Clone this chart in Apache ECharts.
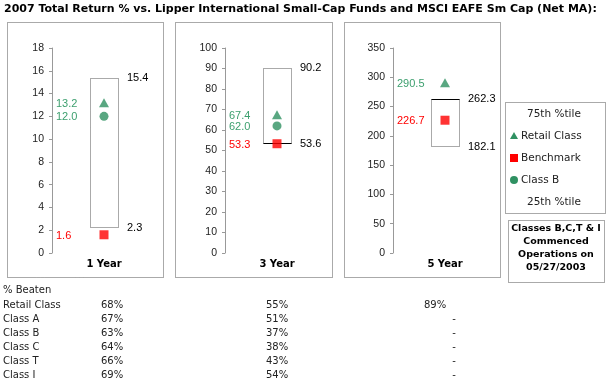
<!DOCTYPE html>
<html>
<head>
<meta charset="utf-8">
<script src="https://cdn.jsdelivr.net/npm/echarts@6/dist/echarts.min.js"></script>
<style>
html,body{margin:0;padding:0;background:#fff;}
#c{width:615px;height:385px;}
</style>
</head>
<body>
<div id="c"></div>
<script>
// ---- data ----
const titleText = '2007 Total Return % vs. Lipper International Small-Cap Funds and MSCI EAFE Sm Cap (Net MA):';
const periods = ['1 Year', '3 Year', '5 Year'];
const pct75 = [15.4, 90.2, 262.3];
const pct25 = [2.3, 53.6, 182.1];
const retailClass = [13.2, 67.4, 290.5];
const benchmark = [1.6, 53.3, 226.7];
const classB = [12.0, 62.0, null];
const axisMax = [18, 100, 350];
const axisStep = [2, 10, 50];
const legendItems = ['75th %tile', 'Retail Class', 'Benchmark', 'Class B', '25th %tile'];
const noteLines = ['Classes B,C,T & I', 'Commenced', 'Operations on', '05/27/2003'];
const beatenTitle = '% Beaten';
const beatenRows = ['Retail Class', 'Class A', 'Class B', 'Class C', 'Class T', 'Class I'];
const beaten1Y = ['68%', '67%', '63%', '64%', '66%', '69%'];
const beaten3Y = ['55%', '51%', '37%', '38%', '43%', '54%'];
const beaten5Y = ['89%', '-', '-', '-', '-', '-'];

// ---- styles ----
const GREEN = '#2f9162';
const GREEN_TXT = '#3c9f6e';
const RED = '#ff0000';
const NUM_FONT = 'Liberation Sans, Arial, sans-serif';
const VFONT = 'DejaVu Sans, Verdana, sans-serif';
const gridLefts = [52, 225, 393];
const solidEdge = ['', 'bottom', 'top'];

const chart = echarts.init(document.getElementById('c'), null, {renderer: 'canvas'});

const grids = [], xAxes = [], yAxes = [], series = [];
periods.forEach((p, i) => {
  grids.push({left: gridLefts[i], top: 48, width: 104, height: 205});
  xAxes.push({
    type: 'category', gridIndex: i, data: [p],
    axisLine: {show: false}, axisTick: {show: false},
    axisLabel: {fontFamily: VFONT, fontWeight: 'bold', fontSize: 10, color: '#000', margin: 6}
  });
  yAxes.push({
    type: 'value', gridIndex: i, min: 0, max: axisMax[i], interval: axisStep[i],
    axisLine: {show: true, lineStyle: {color: '#999', width: 1}},
    axisTick: {show: true, length: 3, lineStyle: {color: '#999'}},
    axisLabel: {fontFamily: NUM_FONT, fontSize: 10.5, color: '#222', margin: 8},
    splitLine: {show: false}
  });
  // box from 25th to 75th percentile with right-side labels
  series.push({
    type: 'custom', xAxisIndex: i, yAxisIndex: i, silent: true, z: 1,
    data: [[0, pct25[i], pct75[i]]],
    renderItem: function (params, api) {
      const lo = api.coord([api.value(0), api.value(1)]);
      const hi = api.coord([api.value(0), api.value(2)]);
      const x0 = Math.round(lo[0] - 14) + 0.5;
      const yT = Math.round(hi[1]) + 0.5, yB = Math.round(lo[1]) + 0.5;
      const children = [{
        type: 'rect', shape: {x: x0, y: yT, width: 28, height: yB - yT},
        style: {fill: null, stroke: '#555', lineWidth: 1, lineDash: [1, 1]}
      }];
      if (solidEdge[i]) {
        const yy = solidEdge[i] === 'top' ? yT : yB;
        children.push({type: 'line', shape: {x1: x0, y1: yy, x2: x0 + 28, y2: yy},
          style: {stroke: '#000', lineWidth: 1}});
      }
      children.push({type: 'text', style: {text: api.value(2).toFixed(1), x: lo[0] + 23, y: hi[1],
        textVerticalAlign: 'middle', verticalAlign: 'middle', fill: '#000', font: '11px ' + NUM_FONT}});
      children.push({type: 'text', style: {text: api.value(1).toFixed(1), x: lo[0] + 23, y: lo[1] + 1,
        textVerticalAlign: 'middle', verticalAlign: 'middle', fill: '#000', font: '11px ' + NUM_FONT}});
      return {type: 'group', children: children};
    }
  });
  // left-side value labels
  const lbl = [];
  if (retailClass[i] != null) lbl.push([0, retailClass[i], 0]);
  if (classB[i] != null) lbl.push([0, classB[i], 0]);
  if (benchmark[i] != null) lbl.push([0, benchmark[i], 1]);
  series.push({
    type: 'custom', xAxisIndex: i, yAxisIndex: i, silent: true, z: 3,
    data: lbl,
    renderItem: function (params, api) {
      const c = api.coord([api.value(0), api.value(1)]);
      const band = api.size([1, 0])[0];
      return {type: 'text', style: {text: api.value(1).toFixed(1), x: c[0] - band / 2 + 4, y: c[1] + 1,
        verticalAlign: 'middle', textVerticalAlign: 'middle',
        fill: api.value(2) === 0 ? GREEN_TXT : RED, font: '11px ' + NUM_FONT}};
    }
  });
  series.push({name: 'Retail Class', type: 'scatter', xAxisIndex: i, yAxisIndex: i, z: 4,
    symbol: 'triangle', symbolSize: [10, 9], itemStyle: {color: GREEN}, data: [[0, retailClass[i]]]});
  series.push({name: 'Benchmark', type: 'scatter', xAxisIndex: i, yAxisIndex: i, z: 4,
    symbol: 'rect', symbolSize: 9, itemStyle: {color: RED}, data: [[0, benchmark[i]]]});
  if (classB[i] != null) {
    series.push({name: 'Class B', type: 'scatter', xAxisIndex: i, yAxisIndex: i, z: 4,
      symbol: 'circle', symbolSize: 9, itemStyle: {color: GREEN}, data: [[0, classB[i]]]});
  }
});

// ---- graphic elements (frames, legend, note, table) ----
const dotted = {fill: null, stroke: '#555', lineWidth: 1, lineDash: [1, 1]};
const graphic = [];
graphic.push({type: 'text', left: 4, top: 4, style: {text: titleText, fill: '#000',
  font: 'bold 11px ' + VFONT}});
[[7, 163], [175, 332], [344, 500]].forEach(([a, b]) => {
  graphic.push({type: 'rect', shape: {x: a + 0.5, y: 22.5, width: b - a, height: 255}, style: dotted, silent: true});
});
graphic.push({type: 'rect', shape: {x: 505.5, y: 102.5, width: 100, height: 111}, style: dotted});
graphic.push({type: 'rect', shape: {x: 508.5, y: 220.5, width: 96, height: 62}, style: dotted});
const legY = [114, 136, 158, 180, 202];
legendItems.forEach((t, k) => {
  const hasMark = k >= 1 && k <= 3;
  graphic.push({type: 'text', x: hasMark ? 521 : 527, y: legY[k],
    style: {text: t, fill: '#222', font: '10.5px ' + VFONT, verticalAlign: 'middle', textVerticalAlign: 'middle'}});
});
graphic.push({type: 'polygon', shape: {points: [[514, legY[1] - 4], [518, legY[1] + 3], [510, legY[1] + 3]]}, style: {fill: GREEN}});
graphic.push({type: 'rect', shape: {x: 510, y: legY[2] - 4, width: 8, height: 8}, style: {fill: RED}});
graphic.push({type: 'circle', shape: {cx: 514, cy: legY[3], r: 4}, style: {fill: GREEN}});
noteLines.forEach((t, k) => {
  graphic.push({type: 'text', x: 556, y: 229 + k * 13,
    style: {text: t, fill: '#000', font: 'bold 9.5px ' + VFONT, align: 'center', textAlign: 'center',
      verticalAlign: 'middle', textVerticalAlign: 'middle'}});
});
graphic.push({type: 'text', x: 3, y: 290, style: {text: beatenTitle, fill: '#222', font: '10px ' + VFONT,
  verticalAlign: 'middle', textVerticalAlign: 'middle'}});
beatenRows.forEach((r, k) => {
  const y = 305 + k * 14;
  const st = (t, x, al) => ({type: 'text', x: x, y: y, style: {text: t, fill: '#222', font: '10px ' + VFONT,
    align: al || 'left', textAlign: al || 'left', verticalAlign: 'middle', textVerticalAlign: 'middle'}});
  graphic.push(st(r, 3));
  graphic.push(st(beaten1Y[k], 101));
  graphic.push(st(beaten3Y[k], 266));
  graphic.push(beaten5Y[k] === '-' ? st(beaten5Y[k], 454, 'center') : st(beaten5Y[k], 424));
});

chart.setOption({
  animation: false,
  grid: grids, xAxis: xAxes, yAxis: yAxes, series: series,
  graphic: graphic
});
</script>
</body>
</html>
